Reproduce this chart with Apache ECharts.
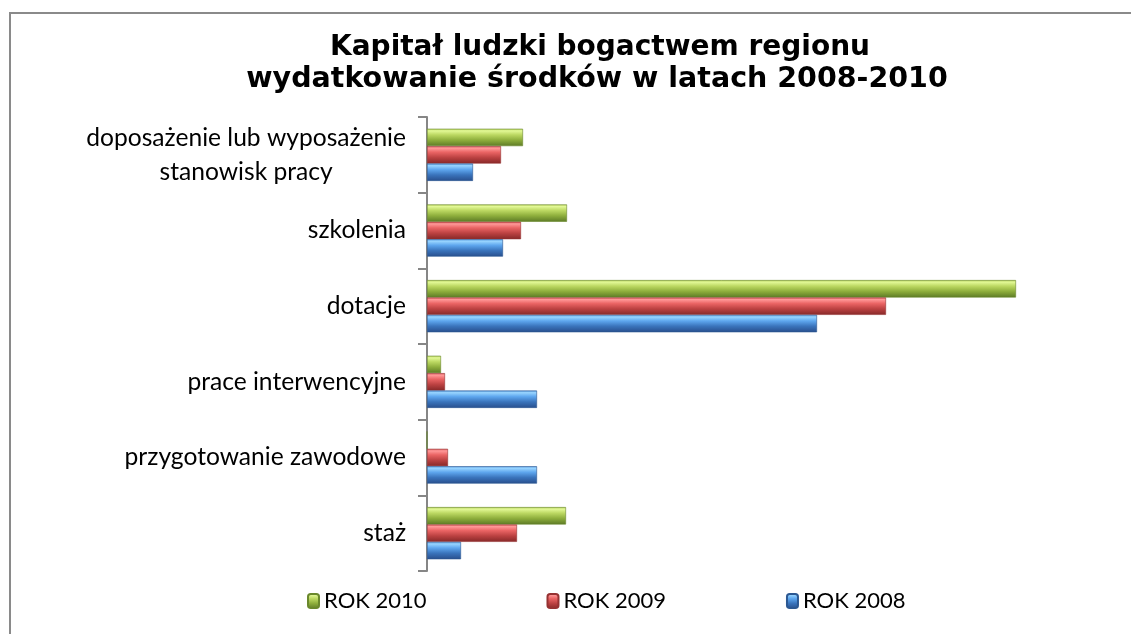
<!DOCTYPE html>
<html>
<head>
<meta charset="utf-8">
<script src="https://cdn.jsdelivr.net/npm/echarts@6/dist/echarts.min.js"></script>
<style>html,body{margin:0;padding:0;background:#fff}#c{width:1131px;height:634px}</style>
</head>
<body>
<div id="c"></div>
<script>
// categories listed bottom-to-top (ECharts category y-axis starts at the bottom)
const categories = ['staż', 'przygotowanie zawodowe', 'prace interwencyjne', 'dotacje', 'szkolenia', 'doposażenie lub wyposażenie\nstanowisk pracy'];
const seriesNames = ['ROK 2010', 'ROK 2009', 'ROK 2008'];
const rok2010 = [139, 0, 14, 589, 140, 96];
const rok2009 = [90, 21, 18, 459, 94, 74];
const rok2008 = [34, 110, 110, 390, 76, 46];
const titleLines = ['Kapitał ludzki bogactwem regionu', 'wydatkowanie środków w latach 2008-2010'];

function grad(stops) {
  return new echarts.graphic.LinearGradient(0, 0, 0, 1, stops.map(c => ({ offset: c[0], color: c[1] })));
}
const greenFill = grad([[0, '#b0cc58'], [0.12, '#e2f896'], [0.35, '#bcd862'], [0.65, '#8eae3c'], [1, '#5c7a26']]);
const redFill = grad([[0, '#d45656'], [0.12, '#ff9898'], [0.35, '#ea6464'], [0.65, '#bc4242'], [1, '#862828']]);
const blueFill = grad([[0, '#5698dc'], [0.12, '#98d4ff'], [0.35, '#5ea6ee'], [0.65, '#3a74bc'], [1, '#284e8c']]);
const fills = [greenFill, redFill, blueFill];
const borders = ['#6a882c', '#963232', '#2c5892'];
const datas = [rok2010, rok2009, rok2008];

const labelFont = 'Lato';
const chart = echarts.init(document.getElementById('c'), null, { renderer: 'canvas' });
chart.setOption({
  animation: false,
  backgroundColor: '#ffffff',
  graphic: [
    { type: 'rect', shape: { x: 10, y: 13, width: 1135, height: 640 }, style: { fill: 'none', stroke: '#8a8a8a', lineWidth: 2 }, z: 0 },
    { type: 'text', x: 600, y: 48, style: { text: titleLines[0], font: 'bold 28px "DejaVu Sans"', fill: '#000', textAlign: 'center', textVerticalAlign: 'middle' } },
    { type: 'text', x: 597, y: 80, style: { text: titleLines[1], font: 'bold 28.5px "DejaVu Sans"', fill: '#000', textAlign: 'center', textVerticalAlign: 'middle' } }
  ],
  legend: {
    data: seriesNames,
    left: 307,
    top: 590,
    padding: 0,
    itemWidth: 11,
    itemHeight: 14,
    itemGap: 120,
    textStyle: { fontFamily: labelFont, fontSize: 22, color: '#000' }
  },
  grid: { left: 427, top: 117, width: 600, height: 454, outerBoundsMode: 'none' },
  xAxis: { type: 'value', min: 0, max: 600, show: false },
  yAxis: {
    type: 'category',
    data: categories,
    axisLine: { show: true, lineStyle: { color: '#868686', width: 2 } },
    axisTick: { show: true, length: 9, lineStyle: { color: '#868686', width: 2 } },
    axisLabel: {
      margin: 21,
      align: 'right',
      color: '#000',
      fontFamily: labelFont,
      fontSize: 24.6,
      formatter: v => v.split('\n').map(s => '{c|' + s + '}').join('\n'),
      rich: { c: { align: 'center', fontFamily: labelFont, fontSize: 24.6, lineHeight: 34, color: '#000' } }
    },
    splitLine: { show: false }
  },
  series: seriesNames.map((n, i) => ({
    name: n,
    type: 'bar',
    data: datas[i],
    barWidth: 17.4,
    barGap: '0%',
    itemStyle: { color: fills[i], borderColor: borders[i], borderWidth: 0.6 },
    emphasis: { disabled: true }
  }))
});
</script>
</body>
</html>
